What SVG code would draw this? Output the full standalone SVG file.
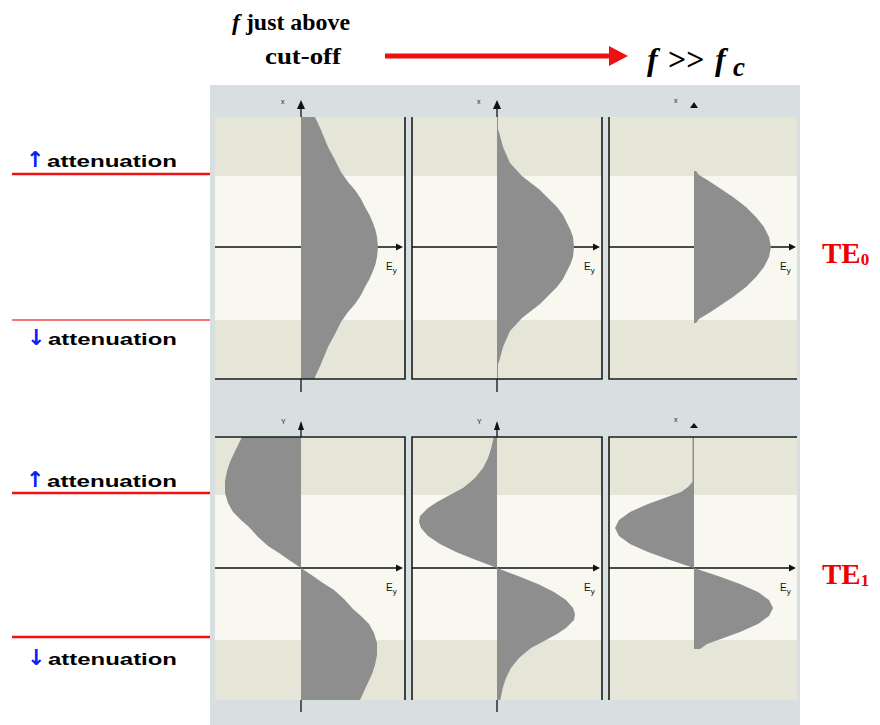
<svg xmlns="http://www.w3.org/2000/svg" width="880" height="725" viewBox="0 0 880 725">
<style>
.bg{fill:#d8dfe0}
.beige{fill:#e6e6d8}
.light{fill:#f8f8f1}
.field{fill:#8e8e8e}
.frame{stroke:#1c1c1c;stroke-width:1.6;fill:none}
.axis{stroke:#111;stroke-width:1.3;fill:none}
.ah{fill:#111}
.lbl{font-family:"Liberation Sans",Arial,sans-serif;font-size:10px;fill:#111}
.tiny{font-family:"Liberation Sans",Arial,sans-serif;font-size:7px;fill:#222}
.att{font-family:"Liberation Sans",Arial,sans-serif;font-weight:bold;font-size:17px;fill:#000}
.arr{font-family:"DejaVu Sans",sans-serif;font-weight:bold;font-size:22px;fill:#0a1eff}
.redline{stroke:#ee1111;stroke-width:2.5}
.title{font-family:"Liberation Serif","Times New Roman",serif;font-weight:bold;fill:#000}
.te{font-family:"Liberation Serif","Times New Roman",serif;font-weight:bold;fill:#ee0000;font-size:29px}
</style>
<rect width="880" height="725" fill="#ffffff"/>

<g id="header">
  <text class="title" x="232" y="30" font-size="24" textLength="118" lengthAdjust="spacingAndGlyphs"><tspan font-style="italic">f</tspan> just above</text>
  <text class="title" x="265" y="64" font-size="23" textLength="76" lengthAdjust="spacingAndGlyphs">cut-off</text>
  <text class="title" font-size="32" y="70"><tspan x="647" font-style="italic">f</tspan><tspan x="668">&gt;&gt;</tspan><tspan x="715" font-style="italic">f</tspan><tspan x="733" font-style="italic" font-size="27" dy="6">c</tspan></text>
</g>

<g id="connectors">
  <line x1="385" y1="56" x2="612" y2="56" stroke="#ee1111" stroke-width="5"/>
  <polygon points="609,46 628,56 609,66" fill="#ee1111"/>
</g>

<g id="left-labels">
  <line class="redline" x1="12" y1="174" x2="210" y2="174"/>
  <line x1="12" y1="320" x2="210" y2="320" stroke="#f04848" stroke-width="1.6"/>
  <line class="redline" x1="12" y1="493" x2="210" y2="493"/>
  <line class="redline" x1="12" y1="637" x2="210" y2="637"/>
  <text class="arr" x="26" y="167">↑</text>
  <text class="att" x="47" y="167" textLength="130" lengthAdjust="spacingAndGlyphs">attenuation</text>
  <text class="arr" x="27" y="345">↓</text>
  <text class="att" x="48" y="345" textLength="129" lengthAdjust="spacingAndGlyphs">attenuation</text>
  <text class="arr" x="26" y="487">↑</text>
  <text class="att" x="47" y="487" textLength="130" lengthAdjust="spacingAndGlyphs">attenuation</text>
  <text class="arr" x="27" y="665">↓</text>
  <text class="att" x="48" y="665" textLength="129" lengthAdjust="spacingAndGlyphs">attenuation</text>
</g>

<g id="mode-labels">
  <text class="te" x="822" y="263">TE<tspan font-size="17" dy="2">0</tspan></text>
  <text class="te" x="822" y="584">TE<tspan font-size="17" dy="2">1</tspan></text>
</g>

<g id="background">
  <rect class="bg" x="210" y="85" width="590" height="640"/>
  <rect class="beige" x="215" y="117" width="582" height="262"/>
  <rect class="light" x="215" y="176" width="582" height="144"/>
  <rect class="beige" x="215" y="437" width="582" height="263"/>
  <rect class="light" x="215" y="495" width="582" height="145"/>
  <rect class="bg" x="405" y="117" width="7" height="262"/>
  <rect class="bg" x="602" y="117" width="7" height="262"/>
  <rect class="bg" x="405" y="437" width="7" height="263"/>
  <rect class="bg" x="602" y="437" width="7" height="263"/>
</g>

<g id="te0-near-cutoff">
  <line class="axis" x1="215" y1="247" x2="397" y2="247"/>
  <polygon class="ah" points="396,243.5 403,247 396,250.5"/>
  <path class="field" d="M301,117 L315,117 L321,130 L328,147 L335,160 L341,172 L348,182 L355,190 L361,199 L365,207 L369.5,215 L373,223 L375.5,230 L377,237 L378,247 L377,257 L375.5,264 L373,271 L369.5,279 L365,287 L361,295 L355,304 L348,312 L341,322 L335,334 L328,347 L321,364 L315,377 L315,379 L301,379 Z"/>
  <line class="axis" x1="301" y1="106" x2="301" y2="117"/>
  <polygon class="ah" points="297,109 301,100 305,109"/>
  <line class="axis" x1="301" y1="379" x2="301" y2="392"/>
  <text class="tiny" x="281" y="104">x</text>
  <text class="lbl" x="386" y="270">E<tspan font-size="8" dy="3">y</tspan></text>
</g>

<g id="te0-mid">
  <line class="axis" x1="412" y1="247" x2="594" y2="247"/>
  <polygon class="ah" points="593,243.5 600,247 593,250.5"/>
  <path class="field" d="M497,117 L498,117 L498,130 L499,132 L503,147 L510,163 L522,176 L531,183 L540,190 L549,199 L557,207 L563,215 L567,223 L570.5,230 L573,237 L574,247 L573,257 L570.5,264 L567,271 L563,279 L557,287 L549,295 L540,304 L531,311 L522,318 L510,331 L503,347 L499,362 L498,364 L498,379 L497,379 Z"/>
  <line class="axis" x1="497" y1="106" x2="497" y2="117"/>
  <polygon class="ah" points="493,109 497,100 501,109"/>
  <line class="axis" x1="497" y1="379" x2="497" y2="392"/>
  <text class="tiny" x="477" y="104">x</text>
  <text class="lbl" x="584" y="270">E<tspan font-size="8" dy="3">y</tspan></text>
</g>

<g id="te0-high">
  <line class="axis" x1="609" y1="247" x2="790" y2="247"/>
  <polygon class="ah" points="789,243.5 796,247 789,250.5"/>
  <path class="field" d="M694,171 L696,171 L699,175 L709,181 L718,187 L733,197 L746,207 L756,217 L764,227 L769,237 L771,247 L769,257 L764,267 L756,277 L746,287 L733,297 L718,307 L709,313 L699,319 L696,323 L694,323 Z"/>
  <polygon class="ah" points="690,108 694,102 698,108"/>
  <text class="tiny" x="674" y="103">x</text>
  <text class="lbl" x="780" y="270">E<tspan font-size="8" dy="3">y</tspan></text>
</g>

<g id="te1-near-cutoff">
  <line class="axis" x1="215" y1="568" x2="397" y2="568"/>
  <polygon class="ah" points="396,564.5 403,568 396,571.5"/>
  <path class="field" d="M301,437 L242,437 L236,449 L230,462 L227,471 L225,481 L225,493 L228,503 L233,512 L241,520 L249,527 L258,537 L268,546 L279,553 L289,560 L301,568 L313,576 L323,583 L334,590 L344,599 L353,609 L361,616 L369,624 L374,633 L377,643 L377,655 L375,665 L372,674 L366,687 L360,700 L301,700 Z"/>
  <line class="axis" x1="301" y1="424" x2="301" y2="437"/>
  <polygon class="ah" points="298,430 301,421 304,430"/>
  <line class="axis" x1="301" y1="700" x2="301" y2="712"/>
  <text class="tiny" x="281" y="424">Y</text>
  <text class="lbl" x="386" y="591">E<tspan font-size="8" dy="3">y</tspan></text>
</g>

<g id="te1-mid">
  <line class="axis" x1="412" y1="568" x2="594" y2="568"/>
  <polygon class="ah" points="593,564.5 600,568 593,571.5"/>
  <path class="field" d="M497,437 L493.7,437 L491.3,448 L488,458 L483,468 L475,478 L463,488 L448,496 L437,502 L428,508 L420,516 L419,522 L421,528 L428,536 L440,544 L456,552 L476,560 L497,568 L518,576 L538,584 L554,592 L566,600 L573,608 L575,614 L574,620 L566,628 L557,634 L546,640 L531,648 L519,658 L511,668 L506,678 L502.7,688 L500.3,700 L497,700 Z"/>
  <line class="axis" x1="497" y1="424" x2="497" y2="437"/>
  <polygon class="ah" points="494,430 497,421 500,430"/>
  <line class="axis" x1="497" y1="700" x2="497" y2="712"/>
  <text class="tiny" x="477" y="424">Y</text>
  <text class="lbl" x="584" y="591">E<tspan font-size="8" dy="3">y</tspan></text>
</g>

<g id="te1-high">
  <line class="axis" x1="609" y1="568" x2="790" y2="568"/>
  <polygon class="ah" points="789,564.5 796,568 789,571.5"/>
  <path class="field" d="M694,437 L692.5,437 L692.5,482 L688,487 L681,492 L670,496 L648,504 L630,512 L619,520 L615,528 L619,536 L630,544 L648,552 L670,560 L694,568 L718,576 L740,584 L758,592 L769,600 L773,608 L769,616 L758,624 L740,632 L718,640 L707,644 L700,649 L694,649 Z"/>
  <polygon class="ah" points="690,428 694,423 698,428"/>
  <text class="tiny" x="674" y="422">x</text>
  <text class="lbl" x="780" y="591">E<tspan font-size="8" dy="3">y</tspan></text>
</g>

<g id="frames">
  <path class="frame" d="M215,379 H405 V117 M412,117 V379 H602 V117 M609,117 V379 H797"/>
  <path class="frame" d="M215,437 H405 V700 M412,700 V437 H602 V700 M609,700 V437 H797"/>
</g>
</svg>
